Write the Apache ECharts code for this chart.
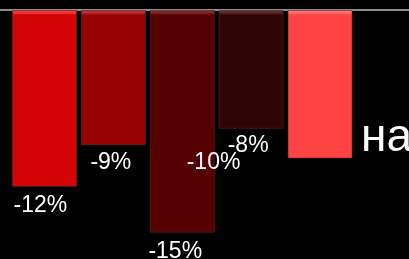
<!DOCTYPE html>
<html>
<head>
<meta charset="utf-8">
<script src="https://cdn.jsdelivr.net/npm/echarts@6/dist/echarts.min.js"></script>
<style>
html,body{margin:0;padding:0;background:#000;}
#c{width:409px;height:259px;}
</style>
</head>
<body>
<div id="c"></div>
<script>
// Data
var categories = ['1', '2', '3', '4', '5'];
var values = [-11.9, -9.1, -15, -8, -10];
var barColors = ['#d40404', '#990202', '#560101', '#2e0404', '#ff4242'];
var topHighlights = ['#f03a3a', '#b83030', '#7a2a2a', '#5a2a2a', '#ff7070'];
var labelOffsets = [[-4, 2.5], [-2.5, 1], [-7, 2], [-3, 0.5], [-106.5, -12]];
var sideText = 'на';

var chart = echarts.init(document.getElementById('c'), null, {renderer: 'canvas'});

var seriesData = [];
for (var i = 0; i < values.length; i++) {
  seriesData.push({
    value: values[i],
    itemStyle: {
      color: {
        type: 'linear', x: 0, y: 10, x2: 0, y2: 15, global: true,
        colorStops: [
          {offset: 0, color: barColors[i]},
          {offset: 0.25, color: topHighlights[i]},
          {offset: 0.6, color: topHighlights[i]},
          {offset: 1, color: barColors[i]}
        ]
      }
    },
    label: {offset: labelOffsets[i]}
  });
}

chart.setOption({
  backgroundColor: '#000',
  animation: false,
  title: {
    text: sideText,
    left: 356,
    top: 110,
    textStyle: {color: '#fff', fontSize: 46, fontWeight: 'normal', fontFamily: 'Liberation Sans, Arial, sans-serif'}
  },
  grid: [
    {left: 10, right: 54.5, top: 10, bottom: 11.4, containLabel: false},
    {left: 0, right: 0, top: 10, bottom: 11.4, containLabel: false}
  ],
  xAxis: [{
    type: 'category',
    gridIndex: 0,
    data: categories,
    axisLine: {show: false},
    axisTick: {show: false},
    axisLabel: {show: false},
    splitLine: {show: false}
  }, {
    type: 'value',
    gridIndex: 1,
    min: 0, max: 1,
    position: 'top',
    axisLine: {show: true, onZero: false, lineStyle: {color: '#8c8c8c', width: 2}},
    axisTick: {show: false},
    axisLabel: {show: false},
    splitLine: {show: false}
  }],
  yAxis: [{
    type: 'value',
    gridIndex: 0,
    min: -16,
    max: 0,
    show: false
  }, {
    type: 'value',
    gridIndex: 1,
    min: 0, max: 1,
    show: false
  }],
  series: [{
    type: 'bar',
    xAxisIndex: 0,
    yAxisIndex: 0,
    data: seriesData,
    barWidth: 65,
    z: 1,
    itemStyle: {borderColor: 'rgba(100,45,45,0.55)', borderWidth: 1},
    label: {
      show: true,
      position: 'bottom',
      distance: 5,
      color: '#fff',
      fontSize: 23,
      fontFamily: 'Liberation Sans, Arial, sans-serif',
      formatter: function (p) { return Math.round(p.value) + '%'; }
    }
  }]
});
</script>
</body>
</html>
